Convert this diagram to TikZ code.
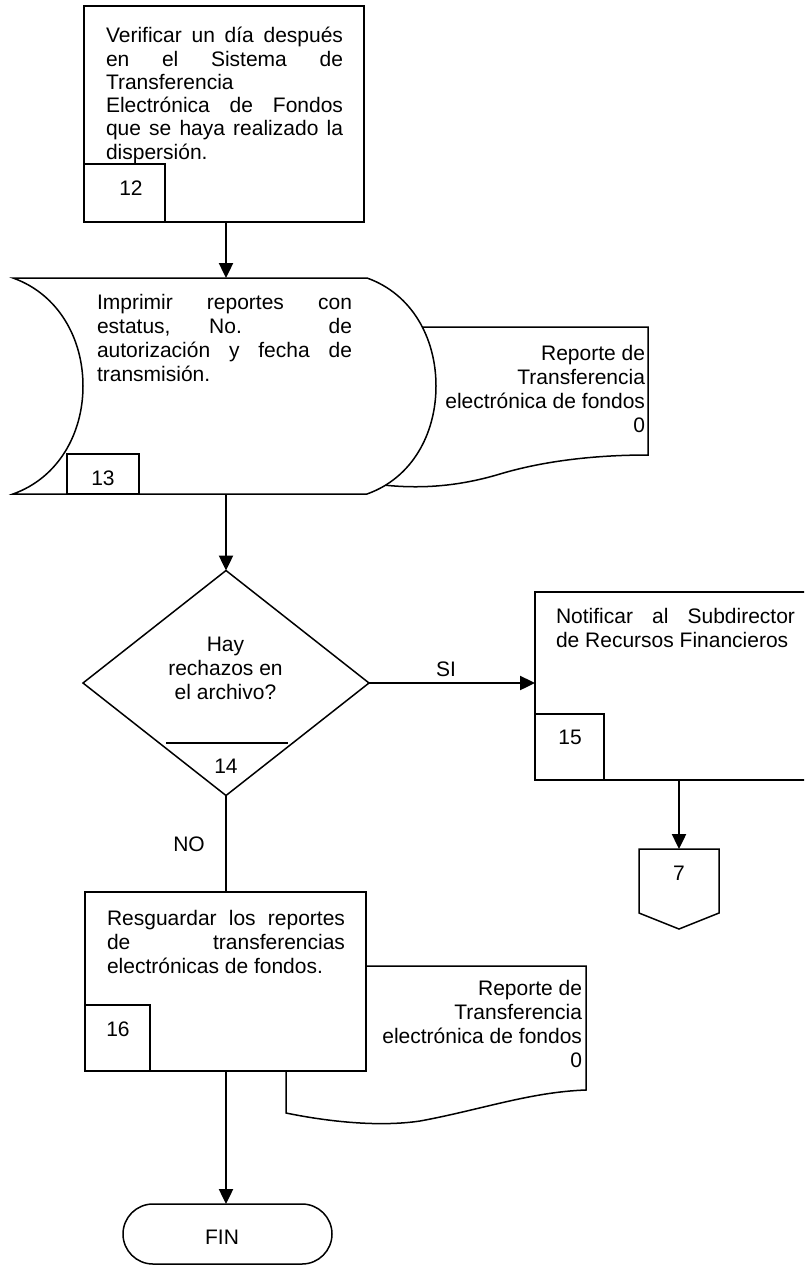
\documentclass[tikz,border=0pt]{standalone}
\usepackage{fontspec}
\setmainfont{Liberation Sans}
\usetikzlibrary{arrows.meta,shapes.geometric,shapes.misc}
\begin{document}
\begin{tikzpicture}[x=1pt,y=-1pt,
  outline/.style={draw=black, line width=1.5pt, fill=white},
  procbox/.style={outline, rectangle, inner sep=0pt, outer sep=0pt, anchor=north west},
  flow/.style={line width=2.4pt, -{Triangle[length=15pt,width=14pt]}},
  plainline/.style={line width=2.4pt},
  txt/.style={inner sep=0pt, outer sep=0pt, font=\fontsize{21}{24}\selectfont},
]
\fill[white] (0,0) rectangle (804,1266);
\useasboundingbox (0,0) rectangle (804,1266);
\clip (0,0) rectangle (804,1266);

% ---- step 12: process box
\node[procbox, minimum width=280pt, minimum height=216pt] (b12) at (84,6) {};
\node[procbox, minimum width=81pt, minimum height=58pt] (n12) at (84,164) {};
\node[txt, anchor=base west] (t12) at (106,42.7) {\parbox[t]{237pt}{\fontsize{21}{23.3}\selectfont
  \makebox[\linewidth][s]{Verificar un día después}\\
  \makebox[\linewidth][s]{en el Sistema de}\\
  Transferencia\\
  \makebox[\linewidth][s]{Electrónica de Fondos}\\
  \makebox[\linewidth][s]{que se haya realizado la}\\
  dispersión.}};
\node[txt, anchor=base] (l12) at (131,195) {12};

% ---- step 13: document output behind the stored-data symbol
\draw[outline] (375,327) -- (648,327) -- (648,455)
  .. controls (590,455) and (540,462) .. (500,474)
  .. controls (460,486) and (420,490) .. (375,484) -- cycle;
\node[txt, anchor=base east] (r13) at (645,360) {\parbox[t]{230pt}{\raggedleft
  Reporte de\\ Transferencia\\ electrónica de fondos\\ 0}};

\draw[outline] (13,278) -- (367,278)
  .. controls (412,294) and (436,338) .. (436,386)
  .. controls (436,434) and (412,478) .. (367,494)
  -- (13,494)
  .. controls (58,478) and (83,434) .. (83,386)
  .. controls (83,338) and (58,294) .. (13,278) -- cycle;
\coordinate (s13n) at (226,278);
\coordinate (s13s) at (226,494);
\node[procbox, minimum width=72pt, minimum height=40pt] (n13) at (67,454) {};
\node[txt, anchor=base west] (t13) at (97,309) {\parbox[t]{255pt}{\fontsize{21}{24.2}\selectfont
  \makebox[\linewidth][s]{Imprimir reportes con}\\
  \makebox[\linewidth][s]{estatus, No. de}\\
  \makebox[\linewidth][s]{autorización y fecha de}\\
  transmisión.}};
\node[txt, anchor=base] (l13) at (103,485) {13};

% ---- step 14: decision
\node[outline, diamond, minimum width=286pt, minimum height=225pt, inner sep=0pt, outer sep=0pt] (d14) at (226,683) {};
\draw[line width=1.5pt] (166,743) -- (288,743);
\node[txt, anchor=base] (t14) at (225.5,651.7) {\parbox[t]{150pt}{\centering
  Hay\\ rechazos en\\ el archivo?}};
\node[txt, anchor=base] (l14) at (226,773) {14};

% ---- step 15: process box and off-page connector
\node[procbox, minimum width=290pt, minimum height=188pt] (b15) at (535,592) {};
\node[procbox, minimum width=69pt, minimum height=66pt] (n15) at (535,714) {};
\node[txt, anchor=base west] (t15) at (556,623.3) {\parbox[t]{239pt}{\fontsize{21}{24.2}\selectfont
  \makebox[\linewidth][s]{Notificar al Subdirector}\\
  de Recursos Financieros}};
\node[txt, anchor=base] (l15) at (570,744) {15};

\draw[outline] (639,849) -- (719,849) -- (719,913) -- (679,929) -- (639,913) -- cycle;
\coordinate (c7) at (679,849);
\node[txt, anchor=base] (l7) at (679,880) {7};

% ---- step 16: document output behind the process box
\draw[outline] (286,966) -- (586,966) -- (586,1090)
  .. controls (530,1092) and (480,1110) .. (420,1121)
  .. controls (380,1127) and (330,1122) .. (286,1113) -- cycle;
\node[txt, anchor=base east] (r16) at (582,995) {\parbox[t]{230pt}{\raggedleft
  Reporte de\\ Transferencia\\ electrónica de fondos\\ 0}};

\node[procbox, minimum width=281pt, minimum height=179pt] (b16) at (85,892) {};
\node[procbox, minimum width=65pt, minimum height=66pt] (n16) at (85,1005) {};
\node[txt, anchor=base west] (t16) at (107,925) {\parbox[t]{238pt}{\fontsize{21}{24.2}\selectfont
  \makebox[\linewidth][s]{Resguardar los reportes}\\
  \makebox[\linewidth][s]{de transferencias}\\
  electrónicas de fondos.}};
\node[txt, anchor=base] (l16) at (118,1036) {16};

% ---- end terminal
\node[outline, rounded rectangle, minimum width=209pt, minimum height=60pt, inner sep=0pt, outer sep=0pt] (fin) at (227.5,1234) {};
\node[txt, anchor=base] (lfin) at (222,1244) {FIN};

% ---- connectors
\draw[flow] (b12.south -| s13n) -- (s13n);
\draw[flow] (s13s) -- (s13s |- d14.north);
\draw[flow] (d14.east) -- (d14.east -| b15.west);
\node[txt, anchor=base] (si) at (446,676.7) {SI};
\draw[flow] (b15.south -| c7) -- (c7);
\draw[plainline] (d14.south) -- (d14.south |- b16.north);
\node[txt, anchor=base] (no) at (189,851) {NO};
\draw[flow] (b16.south -| d14.south) -- (fin.north -| d14.south);
\end{tikzpicture}
\end{document}
